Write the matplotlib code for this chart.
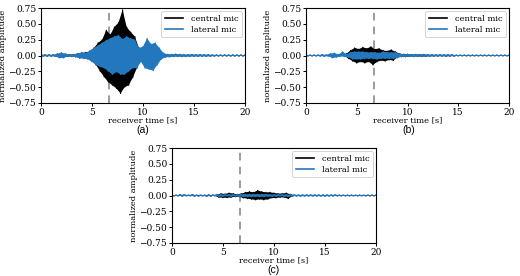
import numpy as np
import matplotlib
matplotlib.use("Agg")
import matplotlib.pyplot as plt

# time axis of the peak samples (s), one sample every 0.2 s
t = np.round(np.arange(0, 20.01, 0.2), 1)

# peak samples (signed, alternating up/down)
a_central = [
 0.01,-0.01,0.01,-0.01,0.01,-0.01,0.01,-0.01,0.01,-0.02,   # 0-1.8
 0.03,-0.03,0.02,-0.015,0.015,-0.015,0.015,-0.02,0.03,-0.04, # 2-3.8
 0.04,-0.04,0.05,-0.05,0.06,-0.08,0.12,-0.15,0.2,-0.25,   # 4-5.8
 0.25,-0.34,0.4,-0.42,0.33,-0.47,0.45,-0.52,0.52,-0.6,    # 6-7.8
 0.72,-0.5,0.45,-0.47,0.37,-0.35,0.3,-0.2,0.12,-0.08,     # 8-9.8
 0.1,-0.08,0.08,-0.1,0.1,-0.08,0.08,-0.06,0.04,-0.03,     # 10-11.8
 0.02,-0.02,0.015,-0.015,0.01,-0.01,0.01,-0.01,0.01,-0.01, # 12-13.8
 0.01,-0.01,0.01,-0.01,0.01,-0.01,0.01,-0.01,0.01,-0.01,   # 14-15.8
 0.01,-0.01,0.01,-0.01,0.008,-0.008,0.008,-0.008,0.008,-0.008, # 16-17.8
 0.008,-0.008,0.008,-0.008,0.008,-0.008,0.008,-0.008,0.008,-0.008, # 18-19.8
 0.008]
a_lateral = [
 0.01,-0.01,0.01,-0.01,0.01,-0.01,0.01,-0.015,0.03,-0.04,
 0.045,-0.04,0.03,-0.015,0.015,-0.02,0.02,-0.025,0.035,-0.045,
 0.05,-0.05,0.04,-0.06,0.08,-0.1,0.12,-0.15,0.16,-0.18,
 0.2,-0.2,0.24,-0.25,0.27,-0.3,0.3,-0.26,0.32,-0.3,
 0.26,-0.3,0.3,-0.25,0.27,-0.2,0.25,-0.2,0.12,-0.1,
 0.14,-0.2,0.27,-0.22,0.18,-0.24,0.2,-0.15,0.12,-0.06,
 0.04,-0.03,0.02,-0.025,0.02,-0.02,0.025,-0.02,0.02,-0.02,
 0.015,-0.02,0.015,-0.015,0.02,-0.015,0.012,-0.015,0.015,-0.012,
 0.012,-0.015,0.012,-0.01,0.01,-0.01,0.008,-0.008,0.008,-0.008,
 0.008,-0.008,0.008,-0.008,0.008,-0.008,0.008,-0.008,0.008,-0.008,
 0.008]

b_central = [
 0.005,-0.005,0.005,-0.005,0.005,-0.005,0.005,-0.005,0.005,-0.005,
 0.005,-0.005,0.005,-0.005,0.005,-0.005,0.005,-0.005,0.01,-0.01,
 0.03,-0.05,0.08,-0.09,0.12,-0.12,0.1,-0.1,0.13,-0.12,
 0.11,-0.1,0.14,-0.15,0.1,-0.1,0.11,-0.08,0.08,-0.09,
 0.07,-0.07,0.09,-0.08,0.06,-0.03,0.03,-0.02,0.02,-0.02,
 0.02,-0.015,0.015,-0.015,0.015,-0.015,0.015,-0.015,0.015,-0.015,
 0.01,-0.01,0.01,-0.01,0.01,-0.01,0.01,-0.01,0.01,-0.01,
 0.01,-0.01,0.01,-0.01,0.005,-0.005,0.005,-0.005,0.005,-0.005,
 0.005,-0.005,0.005,-0.005,0.005,-0.005,0.005,-0.005,0.005,-0.005,
 0.005,-0.005,0.005,-0.005,0.005,-0.005,0.005,-0.005,0.005,-0.005,
 0.005]
b_lateral = [
 0.008,-0.008,0.008,-0.008,0.008,-0.008,0.008,-0.01,0.015,-0.015,
 0.01,-0.01,0.03,-0.04,0.04,-0.03,0.015,-0.015,0.06,-0.02,
 0.02,-0.03,0.05,-0.06,0.06,-0.06,0.06,-0.06,0.06,-0.05,
 0.05,-0.05,0.05,-0.05,0.05,-0.06,0.04,-0.05,0.06,-0.05,
 0.05,-0.05,0.05,-0.05,0.05,-0.04,0.03,-0.02,0.02,-0.02,
 0.02,-0.015,0.015,-0.02,0.02,-0.015,0.015,-0.015,0.02,-0.015,
 0.015,-0.015,0.015,-0.015,0.01,-0.01,0.015,-0.01,0.01,-0.015,
 0.015,-0.01,0.01,-0.006,0.006,-0.006,0.006,-0.006,0.006,-0.006,
 0.006,-0.006,0.006,-0.006,0.006,-0.006,0.006,-0.006,0.006,-0.006,
 0.006,-0.006,0.006,-0.006,0.006,-0.006,0.006,-0.006,0.006,-0.006,
 0.006]

c_central = [
 0.005,-0.005,0.005,-0.005,0.01,-0.01,0.005,-0.005,0.005,-0.005,
 0.01,-0.01,0.005,-0.005,0.005,-0.005,0.005,-0.005,0.01,-0.01,
 0.005,-0.005,0.01,-0.03,0.03,-0.035,0.025,-0.035,0.04,-0.03,
 0.03,-0.02,0.02,-0.02,0.03,-0.04,0.05,-0.05,0.06,-0.06,
 0.05,-0.07,0.08,-0.06,0.06,-0.07,0.05,-0.06,0.05,-0.04,
 0.04,-0.04,0.03,-0.03,0.03,-0.03,0.04,-0.05,0.02,-0.01,
 0.005,-0.005,0.005,-0.005,0.005,-0.005,0.005,-0.005,0.005,-0.005,
 0.005,-0.005,0.005,-0.005,0.005,-0.005,0.005,-0.005,0.005,-0.005,
 0.005,-0.005,0.005,-0.005,0.005,-0.005,0.005,-0.005,0.005,-0.005,
 0.005,-0.005,0.005,-0.005,0.005,-0.005,0.005,-0.005,0.005,-0.005,
 0.005]
c_lateral = [
 0.006,-0.006,0.006,-0.006,0.012,-0.006,0.015,-0.006,0.006,-0.006,
 0.015,-0.006,0.006,-0.012,0.006,-0.006,0.006,-0.015,0.006,-0.006,
 0.01,-0.006,0.015,-0.015,0.015,-0.015,0.015,-0.01,0.015,-0.015,
 0.015,-0.01,0.015,-0.015,0.02,-0.02,0.02,-0.02,0.02,-0.02,
 0.02,-0.02,0.02,-0.02,0.02,-0.02,0.02,-0.015,0.015,-0.015,
 0.015,-0.015,0.015,-0.01,0.015,-0.015,0.015,-0.02,0.015,-0.01,
 0.012,-0.01,0.01,-0.012,0.01,-0.01,0.012,-0.01,0.01,-0.01,
 0.012,-0.01,0.01,-0.01,0.01,-0.012,0.01,-0.01,0.01,-0.01,
 0.012,-0.006,0.006,-0.006,0.006,-0.006,0.006,-0.006,0.006,-0.006,
 0.006,-0.006,0.006,-0.006,0.006,-0.006,0.006,-0.006,0.006,-0.006,
 0.006]

event_time = 6.7
panel_labels = ["(a)", "(b)", "(c)"]
series_names = ["central mic", "lateral mic"]
yticks = [-0.75, -0.5, -0.25, 0.0, 0.25, 0.5, 0.75]
xticks = [0, 5, 10, 15, 20]

panels = [(a_central, a_lateral), (b_central, b_lateral), (c_central, c_lateral)]

W, H = 520, 276
fig = plt.figure(figsize=(W / 100, H / 100), dpi=100)

# axes boxes in pixels: left, top, right, bottom
boxes = [(41, 8, 245, 103), (306, 8, 509, 103), (172, 148, 376, 243)]
label_pos = [(143, 130), (409, 130), (274, 270)]
ylabel_x = [7, 272, 138]

serif = "DejaVu Serif"
blue = "#2378bd"
fs = 6


def draw_wave(ax, v, color, label):
    v = np.asarray(v)
    ax.fill(np.concatenate([t[0::2], t[1::2][::-1]]),
            np.concatenate([v[0::2], v[1::2][::-1]]),
            color=color, lw=0, zorder=2)
    ax.plot(t, v, color=color, lw=0.8, label=label, zorder=2)


for (cen, lat), (l, tp, r, b), lab, (lx, ly), yx in zip(panels, boxes, panel_labels,
                                                      label_pos, ylabel_x):
    ax = fig.add_axes([l / W, 1 - b / H, (r - l) / W, (b - tp) / H])
    draw_wave(ax, cen, "black", series_names[0])
    draw_wave(ax, lat, blue, series_names[1])
    ax.axvline(event_time, color="#808080", lw=1.1, ls=(0, (5, 4)), zorder=1.5)
    ax.set_xlim(0, 20)
    ax.set_ylim(-0.75, 0.75)
    ax.set_xticks(xticks)
    ax.set_yticks(yticks)
    ax.set_xticklabels([str(v) for v in xticks], family=serif, fontsize=fs + 0.5)
    ax.set_yticklabels(["%.2f" % v if v >= 0 else "\u2212%.2f" % -v for v in yticks],
                       family=serif, fontsize=fs + 0.5)
    ax.tick_params(length=2.5, width=0.7, pad=1.0)
    for s in ax.spines.values():
        s.set_linewidth(0.8)
    ax.set_xlabel("receiver time [s]", family=serif, fontsize=fs)
    ax.xaxis.set_label_coords(0.5, -13 / (b - tp))
    ax.set_ylabel("normalized amplitude", family=serif, fontsize=fs)
    ax.yaxis.set_label_coords((yx - l) / (r - l), 0.5)
    leg = ax.legend(loc="upper right", prop={"family": serif, "size": fs},
                    handlelength=2.2, borderpad=0.45, labelspacing=0.35,
                    handletextpad=0.9, borderaxespad=0.35, framealpha=1)
    leg.get_frame().set_linewidth(0.6)
    for h in leg.get_lines():
        h.set_linewidth(1.2)
    fig.text(lx / W, 1 - ly / H, lab, ha="center", va="center",
             family="Liberation Sans", fontsize=7.5)

fig.savefig("out.png", dpi=100)
